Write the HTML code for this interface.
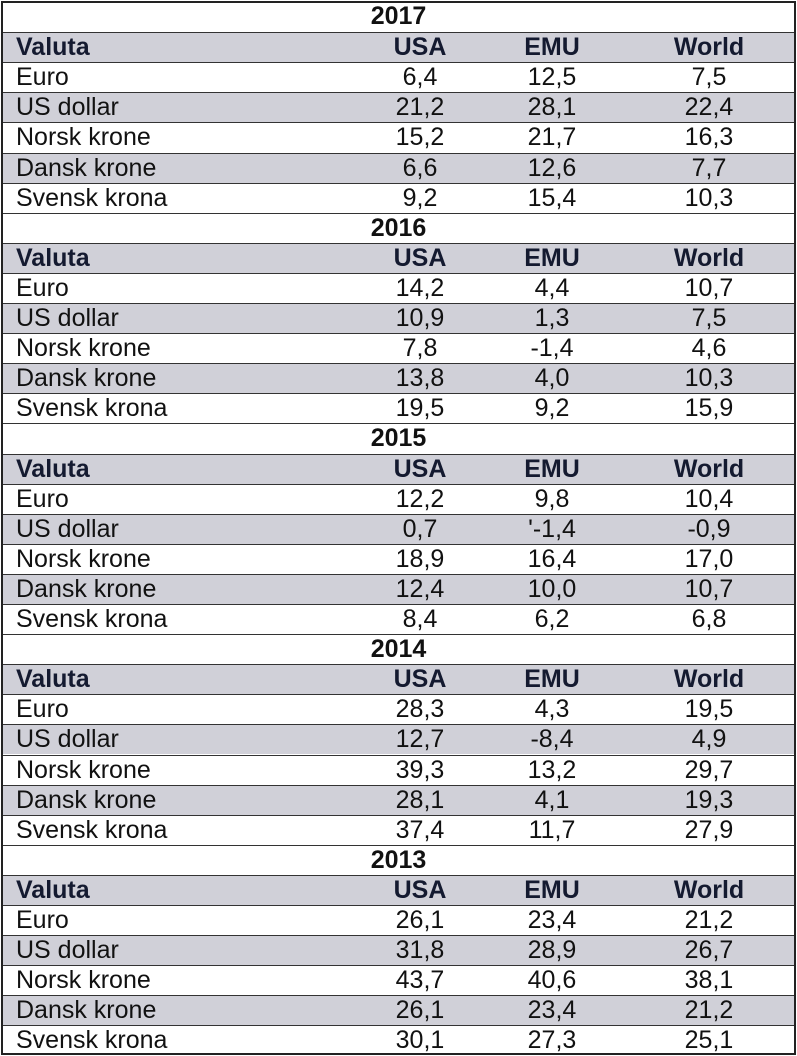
<!DOCTYPE html>
<html><head><meta charset="utf-8"><style>
html,body{margin:0;padding:0;background:#fff;width:797px;height:1056px;overflow:hidden}
#t{position:absolute;left:1px;top:1px;width:795px;height:1054px;border:2px solid #222;box-sizing:border-box;font-family:"Liberation Sans",Arial,sans-serif;font-size:25px;color:#111}
.r{position:absolute;left:0;width:100%;height:30.1px;border-top:1.5px solid #333;box-sizing:border-box}
.r:first-child{border-top:none}
.g{background:#d0d0d8}
.c{position:absolute;top:0;line-height:28px;white-space:nowrap}
.l{left:13px}
.u{left:372px;width:90px;text-align:center}
.e{left:504px;width:90px;text-align:center}
.w{left:661px;width:90px;text-align:center}
.y{left:0;width:100%;text-align:center;font-weight:bold}
.h{font-weight:bold;color:#141a30}
</style></head><body>
<div id="t"></div>
<script>
const years=["2017","2016","2015","2014","2013"];
const currencies=["Euro","US dollar","Norsk krone","Dansk krone","Svensk krona"];
const usa=[["6,4","21,2","15,2","6,6","9,2"],["14,2","10,9","7,8","13,8","19,5"],["12,2","0,7","18,9","12,4","8,4"],["28,3","12,7","39,3","28,1","37,4"],["26,1","31,8","43,7","26,1","30,1"]];
const emu=[["12,5","28,1","21,7","12,6","15,4"],["4,4","1,3","-1,4","4,0","9,2"],["9,8","'-1,4","16,4","10,0","6,2"],["4,3","-8,4","13,2","4,1","11,7"],["23,4","28,9","40,6","23,4","27,3"]];
const world=[["7,5","22,4","16,3","7,7","10,3"],["10,7","7,5","4,6","10,3","15,9"],["10,4","-0,9","17,0","10,7","6,8"],["19,5","4,9","29,7","19,3","27,9"],["21,2","26,7","38,1","21,2","25,1"]];
const t=document.getElementById('t');
const RH=30.1;let idx=0;
function row(gray){const r=document.createElement('div');r.className='r'+(gray?' g':'');r.style.top=(idx*RH-1)+'px';idx++;t.appendChild(r);return r;}
function cell(r,cls,txt,name){const c=document.createElement('div');c.className='c '+cls;c.textContent=txt;


r.appendChild(c);}
years.forEach((y,i)=>{
 let r=row(false);
 
 
 cell(r,'y',y,'year-label');
 r=row(true);
 
 
 cell(r,'l h','Valuta','header-valuta');cell(r,'u h','USA','header-usa');cell(r,'e h','EMU','header-emu');cell(r,'w h','World','header-world');
 currencies.forEach((c,j)=>{
  const rr=row(j%2==1);
  
  
  cell(rr,'l',c,'currency-name');cell(rr,'u',usa[i][j],'usa-value');cell(rr,'e',emu[i][j],'emu-value');cell(rr,'w',world[i][j],'world-value');
 });
});
</script>
</body></html>
